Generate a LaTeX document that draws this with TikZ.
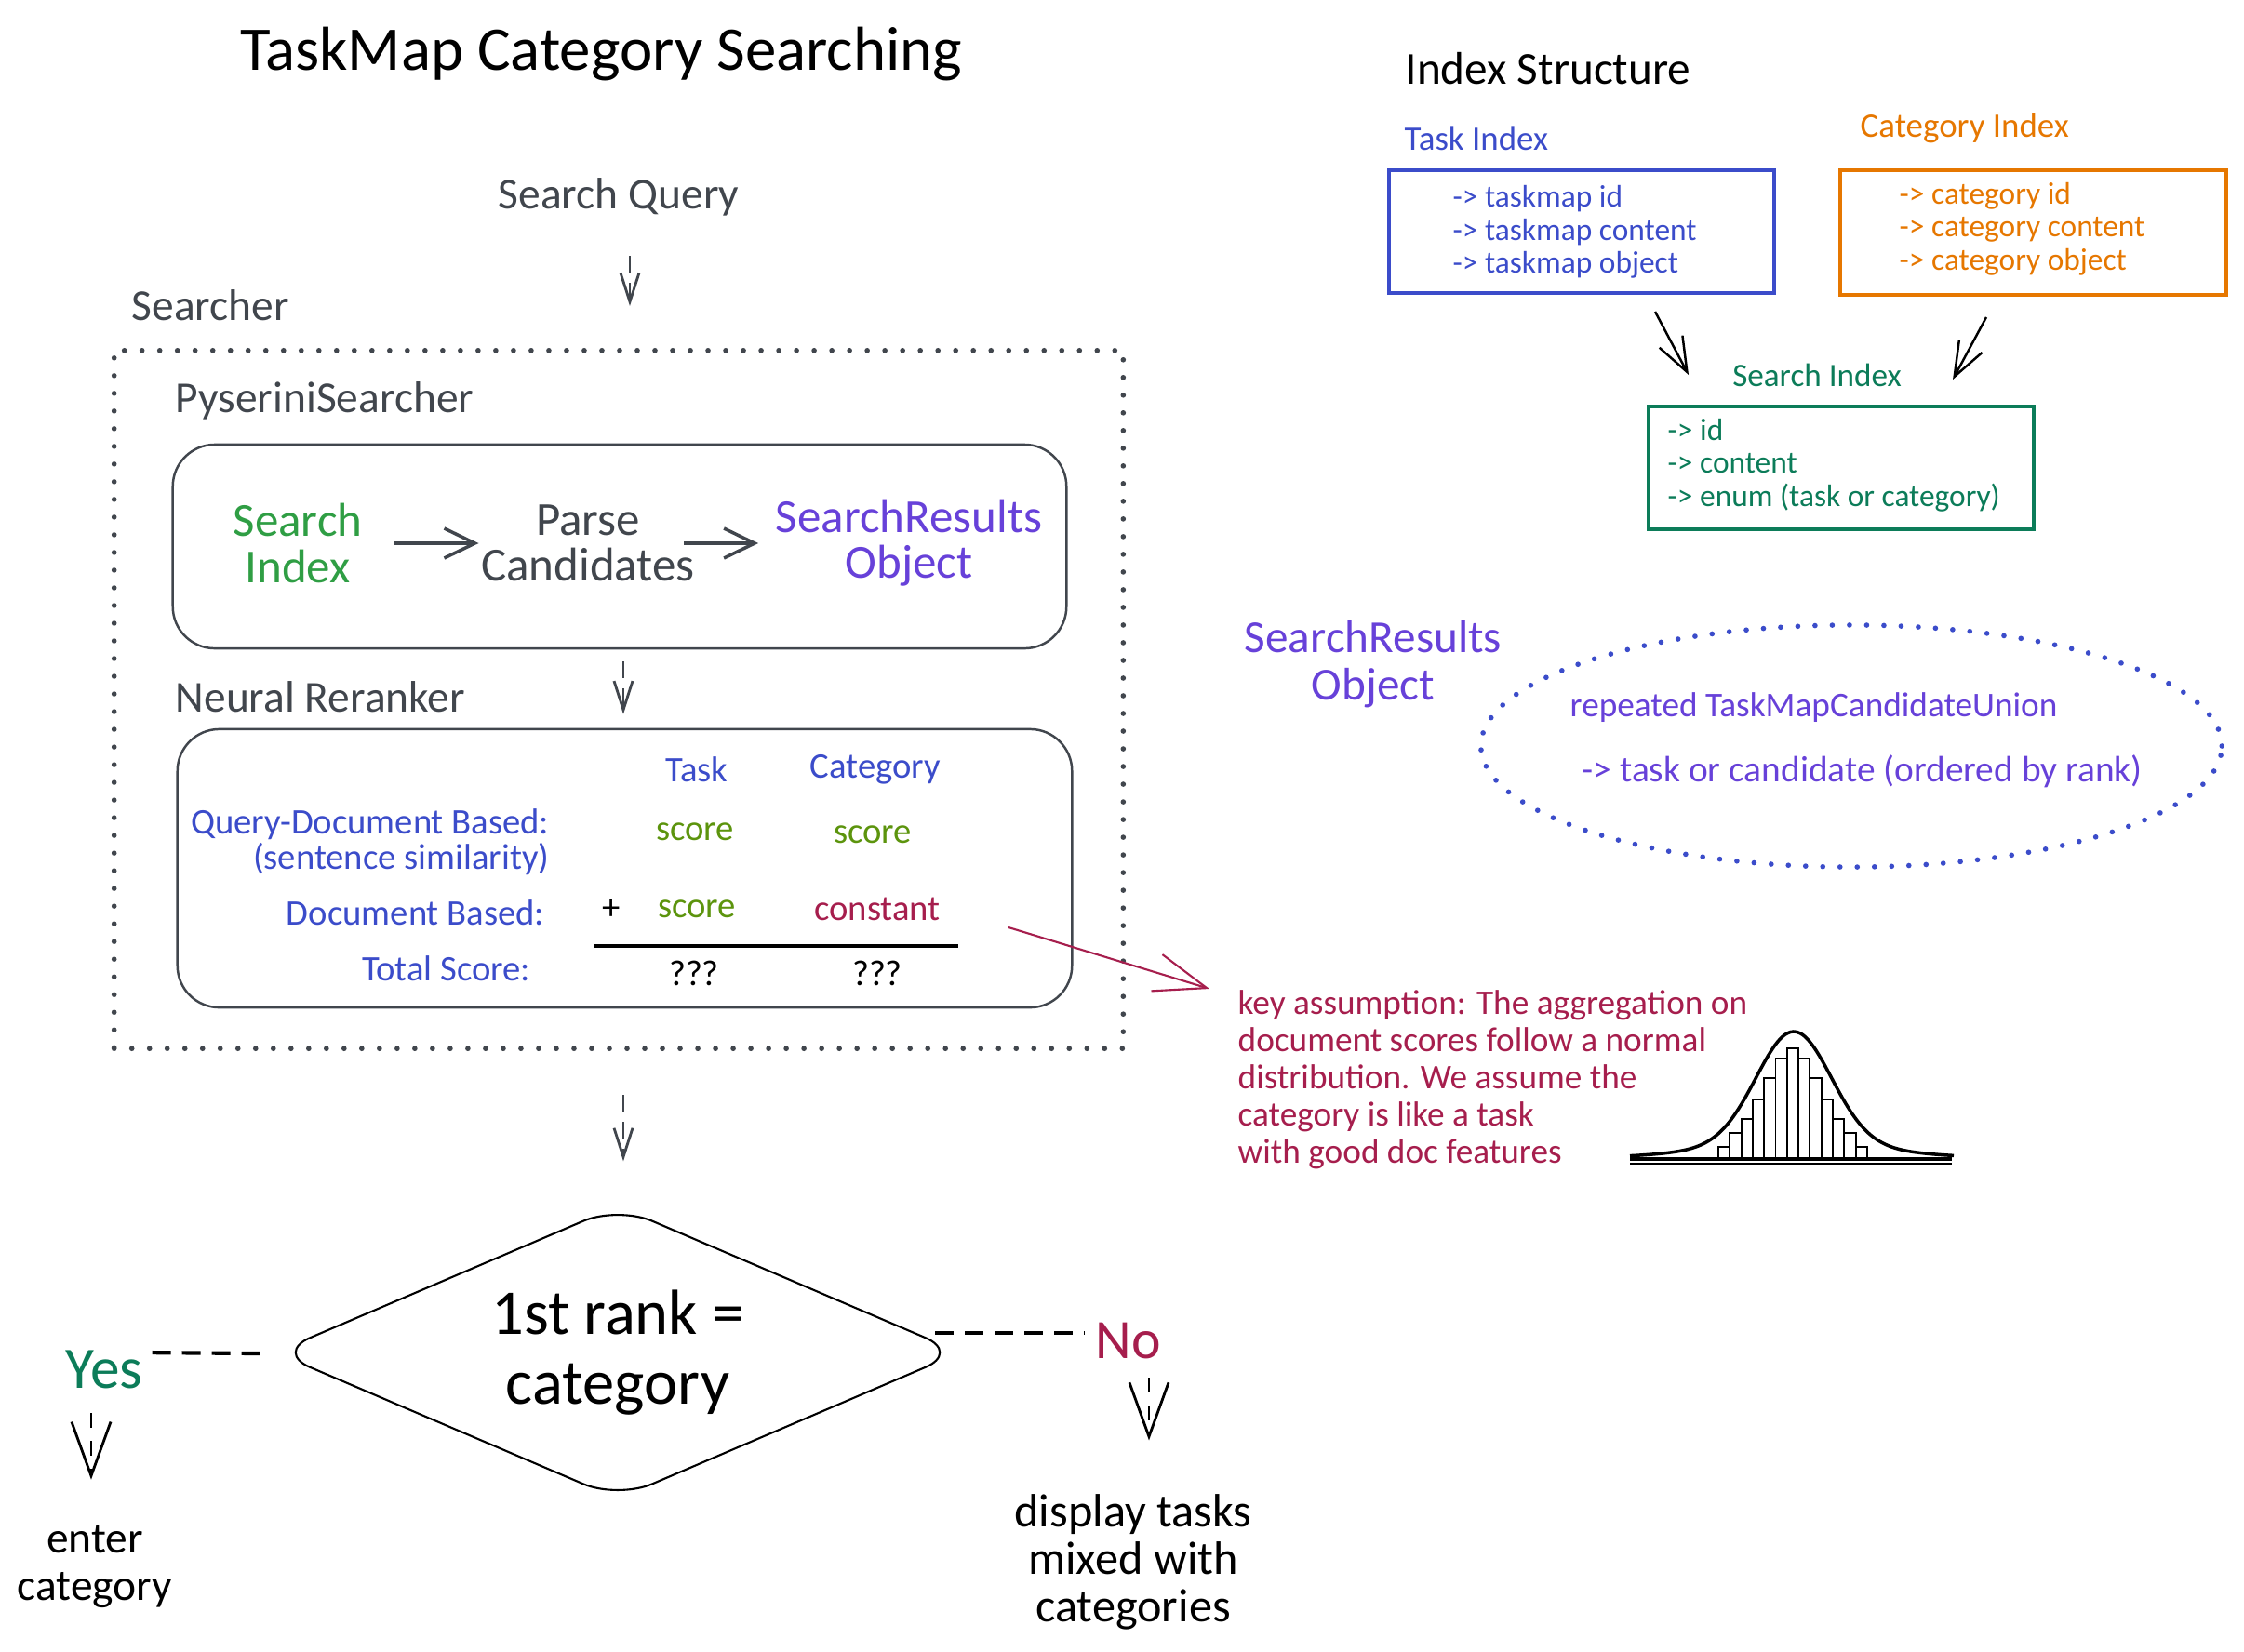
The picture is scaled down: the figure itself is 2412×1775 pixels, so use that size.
\documentclass[tikz,border=0pt]{standalone}
\usepackage{fontspec}
\setmainfont{Carlito}
\usetikzlibrary{arrows.meta,shapes.geometric}
\definecolor{cgray}{HTML}{41464D}
\definecolor{cgreen}{HTML}{2F9E44}
\definecolor{cpurple}{HTML}{6741D9}
\definecolor{cblue}{HTML}{3B4CCA}
\definecolor{corange}{HTML}{E67700}
\definecolor{cteal}{HTML}{0C7C59}
\definecolor{colive}{HTML}{5C940D}
\definecolor{ccrimson}{HTML}{A61E4D}
\newcommand\myfs[2]{\fontsize{#1}{#2}\selectfont}
\begin{document}
\begin{tikzpicture}[x=0.01cm,y=-0.01cm,
  txt/.style={inner sep=0},
  glbl/.style={txt, text=cgray, font=\myfs{13.5}{15}},
  btxt/.style={txt, align=center, font=\myfs{14.5}{14}},
  tbl/.style={txt, font=\myfs{11}{10.8}},
  itxt/.style={txt, anchor=west, align=left, font=\myfs{9.5}{10.1}},
  ibox/.style={draw, line width=1pt, minimum width=4.14cm, minimum height=1.32cm},
  rbox/.style={draw=cgray, line width=0.7pt, rounded corners=0.45cm},
  dotbox/.style={draw=cgray, line width=1.6pt, line cap=round, dash pattern=on 0pt off 0.19cm},
  dotell/.style={ellipse, draw=cblue, line width=1.6pt, line cap=round, dash pattern=on 0pt off 0.185cm},
  garr/.style={draw=cgray, line width=1pt, -{Straight Barb[length=0.33cm,width=0.32cm]}},
  darr/.style={draw=cgray, line width=0.8pt, dash pattern=on 0.18cm off 0.11cm, -{Straight Barb[length=0.31cm,width=0.2cm]}},
  bigarr/.style={draw=black, line width=0.8pt, dash pattern=on 0.16cm off 0.14cm, -{Straight Barb[length=0.58cm,width=0.42cm]}},
  thickdash/.style={draw=black, line width=1.2pt, dash pattern=on 0.2cm off 0.12cm},
  karr/.style={draw=black, line width=0.7pt, -{Straight Barb[length=0.37cm,width=0.28cm]}},
  redarr/.style={draw=ccrimson, line width=0.6pt, -{Straight Barb[length=0.56cm,width=0.41cm]}}
]
\fill[white] (0,0) rectangle (2412,1775);
\useasboundingbox (0,0) rectangle (2412,1775);

% ---------- left column ----------
\node[txt, font=\myfs{19}{21}] (title) at (646,58) {TaskMap Category Searching};
\node[glbl] (query) at (665,212) {Search Query};
\node[glbl, anchor=west] (searcherlbl) at (141,328) {Searcher};
\node[dotbox, minimum width=10.84cm, minimum height=7.5cm] (searcher) at (665,752) {};
\node[glbl, anchor=west] (pyslbl) at (188,431) {PyseriniSearcher};
\node[rbox, minimum width=9.6cm, minimum height=2.19cm] (box1) at (666,587.5) {};
\node[btxt, text=cgreen] (sidx) at (320,584) {Search\\Index};
\node[btxt, text=cgray] (parse) at (632,584) {Parse\\Candidates};
\node[btxt, text=cpurple] (sro) at (977,584) {SearchResults\\Object};
\draw[garr, shorten <=0.34cm, shorten >=0.02cm] (sidx) -- (parse);
\draw[garr, shorten <=-0.12cm, shorten >=0.18cm] (parse) -- (sro);

\coordinate (qx) at (677,0);
\coordinate (cx) at (670,0);
\draw[darr, shorten <=0.42cm, shorten >=0.45cm] (query.south -| qx) -- (searcher.north -| qx);

\node[glbl, anchor=west] (nrlbl) at (188,749) {Neural Reranker};
\node[rbox, minimum width=9.61cm, minimum height=2.99cm] (box2) at (671.5,933.5) {};
\draw[darr, shorten <=0.13cm, shorten >=0.15cm] (box1.south -| cx) -- (box2.north -| cx);

\node[tbl, text=cblue] (thtask) at (749,827) {Task};
\node[tbl, text=cblue] (thcat) at (941,827) {Category};
\node[tbl, text=cblue, align=right, anchor=east] (qd) at (591,905) {Query-Document Based:\\(sentence similarity)};
\node[tbl, text=colive] (s1) at (747,894) {score};
\node[tbl, text=colive] (s2) at (938,897) {score};
\node[tbl, text=cblue, anchor=east] (db) at (586,981) {Document Based:};
\node[tbl] (plus) at (657,978) {+};
\node[tbl, text=colive] (s3) at (749,977) {score};
\node[tbl, text=ccrimson] (const) at (943,977) {constant};
\draw[line width=0.9pt] (638,1017) -- (1030,1017);
\node[tbl, text=cblue, anchor=east] (tot) at (571,1041) {Total Score:};
\node[tbl] (q1) at (746,1046) {???};
\node[tbl] (q2) at (943,1046) {???};

% ---------- decision ----------
\node[diamond, draw, line width=0.6pt, aspect=2.34, minimum width=7.36cm, minimum height=3.15cm,
      rounded corners=0.4cm, inner sep=0, align=center, font=\myfs{19.5}{21.3}] (diamond) at (664,1454) {1st rank =\\category};
\draw[darr, shorten <=0.47cm, shorten >=0.47cm] (searcher.south -| cx) -- (diamond.north -| cx);
\node[txt, text=cteal, font=\myfs{18}{20}] (yes) at (112,1472) {Yes};
\node[txt, text=ccrimson, font=\myfs{17}{20}] (no) at (1213,1441) {No};
\draw[thickdash] ([shift={(-15,1)}]diamond.west) -- (yes.east |- diamond.west);
\draw[thickdash] ([shift={(-28,-21)}]diamond.east) -- ([shift={(-11,-21)}]no.west |- diamond.east);
\node[txt, align=center, font=\myfs{13.5}{14.5}] (enter) at (102,1684) {enter\\category};
\node[txt, align=center, font=\myfs{14.3}{14.5}] (disp) at (1218,1679) {display tasks\\mixed with\\categories};
\coordinate (yx) at (98,0);
\coordinate (nx) at (1235,0);
\draw[bigarr, shorten <=0.26cm, shorten >=0.48cm] (yes.south -| yx) -- (enter.north -| yx);
\draw[bigarr, shorten <=0.2cm, shorten >=0.57cm] (no.south -| nx) -- (disp.north -| nx);

% ---------- index structure ----------
\node[txt, anchor=west, font=\myfs{14}{16}] (istruct) at (1510,74) {Index Structure};
\node[txt, anchor=west, text=cblue, font=\myfs{10.5}{12}] (tilbl) at (1509,149) {Task Index};
\node[txt, anchor=west, text=corange, font=\myfs{10.5}{12}] (cilbl) at (1999,138) {Category Index};
\node[ibox, draw=cblue] (taskbox) at (1700,249) {};
\node[itxt, text=cblue] (tasktxt) at (1561,249.5) {-> taskmap id\\-> taskmap content\\-> taskmap object};
\node[ibox, draw=corange, minimum width=4.15cm, minimum height=1.34cm] (catbox) at (2185.5,250) {};
\node[itxt, text=corange] (cattxt) at (2041,246) {-> category id\\-> category content\\-> category object};
\node[txt, text=cteal, font=\myfs{10}{12}] (silbl) at (1953,403) {Search Index};
\node[ibox, draw=cteal] (sbox) at (1979,503) {};
\node[itxt, text=cteal] (stxt) at (1792,500) {-> id\\-> content\\-> enum (task or category)};
\coordinate (ia1s) at (1779,335);
\coordinate (ia1e) at (1815,403);
\coordinate (ia2s) at (2135,341);
\coordinate (ia2e) at (2099,408);
\draw[karr] (ia1s) -- (ia1e);
\draw[karr] (ia2s) -- (ia2e);

% ---------- search results object ----------
\node[btxt, text=cpurple, font=\myfs{14}{14.5}] (sro2) at (1476,714) {SearchResults\\Object};
\node[dotell, minimum width=7.96cm, minimum height=2.6cm] (ell) at (1990,802) {};
\node[txt, anchor=west, text=cpurple, font=\myfs{10.6}{12}] (rep) at (1687,761) {repeated TaskMapCandidateUnion};
\node[txt, anchor=west, text=cpurple, font=\myfs{11.2}{12}] (rank) at (1700,829) {-> task or candidate (ordered by rank)};

% ---------- key assumption ----------
\coordinate (rs) at (1084,997);
\coordinate (rt) at (1300,1063);
\draw[redarr] (rs) -- (rt);
\node[txt, anchor=west, align=left, text=ccrimson, font=\myfs{10.6}{11.4}] (key) at (1330,1161)
  {key assumption: The aggregation on\\document scores follow a normal\\distribution. We assume the\\category is like a task\\with good doc features};

% bell curve
\foreach \i/\h in {0/13,1/28,2/43,3/64,4/87,5/108,6/119,7/108,8/87,9/64,10/43,11/28,12/13}
  \draw[line width=0.55pt] ({1847+12.3*\i},1246) rectangle ({1847+12.3*(\i+1)},{1246-\h});
\draw[line width=1pt, domain=-4.4:4.3, samples=100, smooth] plot ({1928+40*\x},{1245-136*(0.88*exp(-\x*\x/2)+0.12*exp(-0.1975*\x*\x/2))});
\draw[line width=1.2pt] (1752,1246) -- (2098,1246);
\draw[line width=0.6pt] (1752,1251) -- (2098,1251);
\end{tikzpicture}
\end{document}
